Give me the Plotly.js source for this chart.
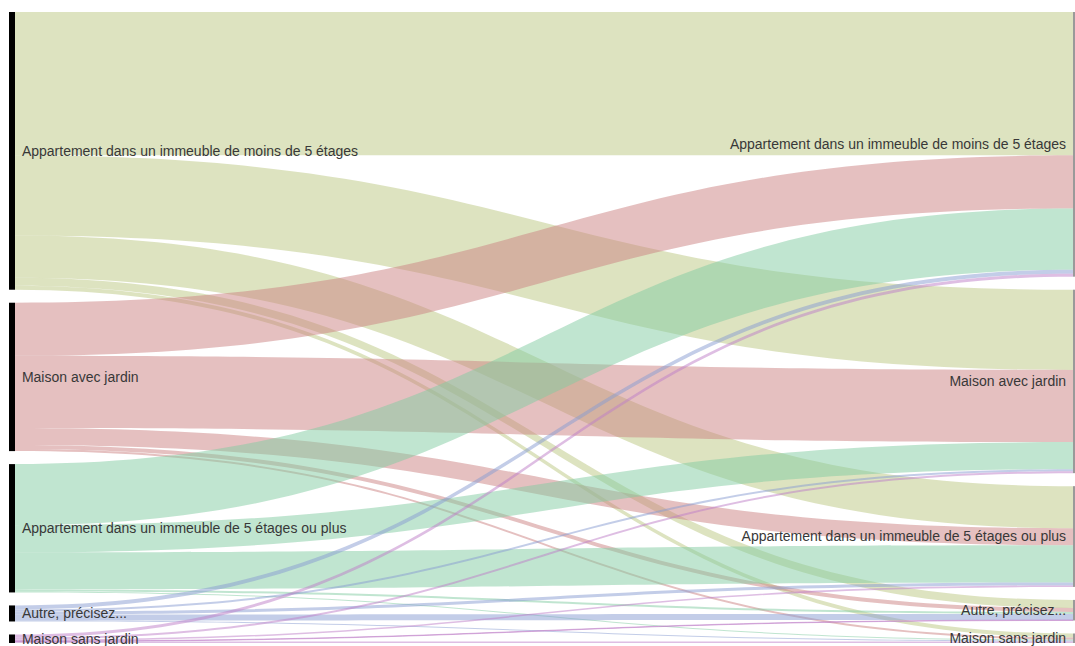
<!DOCTYPE html>
<html>
<head>
<meta charset="utf-8">
<script src="https://cdn.plot.ly/plotly-3.0.1.min.js"></script>
<style>
  html, body { margin: 0; padding: 0; overflow: hidden; background: #fff; }
  #chart { width: 1081px; height: 646px; }
</style>
</head>
<body>
<div id="chart"></div>
<script>
// Categories (same list before and after)
const categories = [
  'Appartement dans un immeuble de moins de 5 étages',
  'Maison avec jardin',
  'Appartement dans un immeuble de 5 étages ou plus',
  'Autre, précisez...',
  'Maison sans jardin'
];

// Flow values from each "before" category to each "after" category (same order as categories)
const fromApptMoins5     = [143, 80, 42, 8, 4];
const fromMaisonJardin   = [53, 72, 17, 4, 2];
const fromAppt5Plus      = [61, 27, 37, 2, 1];
const fromAutre          = [4, 2, 3, 6, 1];
const fromMaisonSansJard = [3, 2, 1.5, 0.5, 1.5];

const flowRows = [fromApptMoins5, fromMaisonJardin, fromAppt5Plus, fromAutre, fromMaisonSansJard];

// Styling
const linkColors = [
  'rgba(187,199,129,0.5)',
  'rgba(203,129,129,0.5)',
  'rgba(129,203,161,0.5)',
  'rgba(135,155,210,0.5)',
  'rgba(190,125,200,0.5)'
];

const W = 1081, Hpx = 646;
const margin = {l: 9, r: 2, t: 12, b: 3};
const pad = 13, thickness = 6;
const plotW = W - margin.l - margin.r;
const plotH = Hpx - margin.t - margin.b;

const n = categories.length;
const source = [], target = [], value = [], color = [];
for (let i = 0; i < n; i++) {
  for (let j = 0; j < n; j++) {
    source.push(i);
    target.push(n + j);
    value.push(flowRows[i][j]);
    color.push(linkColors[i]);
  }
}

// Node totals (to place nodes in the given order, stacked top-down)
const leftTot = flowRows.map(r => r.reduce((a, b) => a + b, 0));
const rightTot = categories.map((_, j) => flowRows.reduce((a, r) => a + r[j], 0));
const sumL = leftTot.reduce((a, b) => a + b, 0);
const sumR = rightTot.reduce((a, b) => a + b, 0);
const ky = Math.min((plotH - (n - 1) * pad) / sumL, (plotH - (n - 1) * pad) / sumR);

function centers(tots) {
  let y = 0; const out = [];
  tots.forEach(t => { const h = t * ky; out.push((y + h / 2) / plotH); y += h + pad; });
  return out;
}
const nodeY = centers(leftTot).concat(centers(rightTot));
const nodeX = categories.map(() => (thickness / 2) / plotW)
  .concat(categories.map(() => 1 - (thickness / 2) / plotW));

// small non-breaking gap between bar and label text
const NB = '\u00a0';
const nodeLabels = categories.map(c => NB + c).concat(categories.map(c => c + NB));

const trace = {
  type: 'sankey',
  arrangement: 'fixed',
  node: {
    label: nodeLabels,
    x: nodeX,
    y: nodeY,
    pad: pad,
    thickness: thickness,
    color: categories.map(() => '#000').concat(categories.map(() => '#9a9a9a')),
    line: {width: 0}
  },
  link: { source, target, value, color, line: {width: 0} },
  textfont: { family: 'Liberation Sans, Arial, sans-serif', size: 14, color: '#383838', shadow: 'none' }
};

const layout = {
  width: W, height: Hpx,
  margin: margin,
  paper_bgcolor: '#fff',
  font: { family: 'Liberation Sans, Arial, sans-serif', size: 14, color: '#383838' },
  showlegend: false
};

Plotly.newPlot('chart', [trace], layout, {displayModeBar: false, staticPlot: true});
</script>
</body>
</html>
